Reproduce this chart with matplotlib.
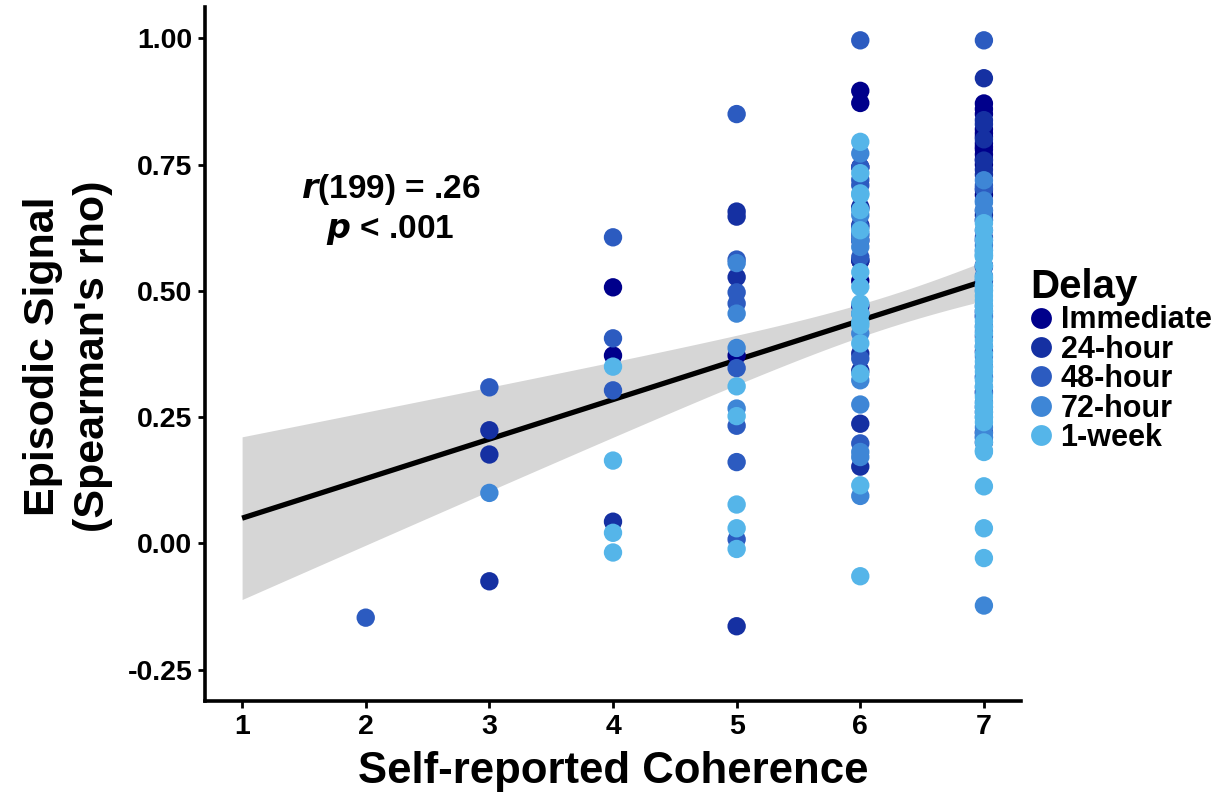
import numpy as np
import matplotlib
matplotlib.use("Agg")
from matplotlib import pyplot as plt
from matplotlib.lines import Line2D

plt.rcParams['font.family'] = ['Liberation Sans', 'DejaVu Sans']
plt.rcParams['font.weight'] = 'bold'

# episodic signal values, per delay group and coherence rating
immediate = {
    4: [0.507, 0.372],
    5: [0.372],
    6: [0.896, 0.872, 0.745, 0.52, 0.60, 0.56, 0.47],
    7: [0.871, 0.86, 0.85, 0.812, 0.805, 0.792, 0.785, 0.77, 0.75, 0.6, 0.64,
        0.55, 0.45, 0.38, 0.30, 0.22, 0.82, 0.78, 0.76, 0.69],
}
hour24 = {
    3: [0.224, 0.176, -0.075],
    4: [0.043],
    5: [0.657, 0.647, 0.527, -0.164],
    6: [0.663, 0.666, 0.376, 0.342, 0.237, 0.152, 0.63, 0.56],
    7: [0.921, 0.838, 0.83, 0.758, 0.74, 0.659, 0.70, 0.52, 0.46, 0.41, 0.35,
        0.27, 0.20, 0.80, 0.73, 0.65],
}
hour48 = {
    2: [-0.147],
    3: [0.309],
    4: [0.606, 0.406, 0.303],
    5: [0.85, 0.562, 0.497, 0.475, 0.347, 0.233, 0.161, 0.008],
    6: [0.996, 0.745, 0.709, 0.626, 0.567, 0.72, 0.455, 0.366, 0.198, 0.61],
    7: [0.996, 0.703, 0.709, 0.62, 0.606, 0.547, 0.58, 0.51, 0.47, 0.43, 0.39,
        0.33, 0.26, 0.21],
}
hour72 = {
    3: [0.10],
    5: [0.555, 0.455, 0.387, 0.267],
    6: [0.772, 0.614, 0.6, 0.587, 0.416, 0.323, 0.275, 0.181, 0.171, 0.094, 0.65],
    7: [0.719, 0.679, 0.675, 0.501, 0.448, 0.455, 0.329, 0.31, 0.297, 0.25, 0.23,
        0.218, 0.21, -0.123, 0.66, 0.59, 0.53, 0.42, 0.37, 0.28, 0.64, 0.57],
}
week1 = {
    4: [0.35, 0.164, 0.021, -0.018],
    5: [0.311, 0.252, 0.077, 0.03, -0.011],
    6: [0.795, 0.733, 0.693, 0.537, 0.508, 0.475, 0.455, 0.438, 0.396, 0.432,
        0.336, 0.115, -0.065, 0.69, 0.66, 0.62],
    7: [0.634, 0.574, 0.57, 0.567, 0.527, 0.525, 0.481, 0.428, 0.402, 0.376,
        0.349, 0.323, 0.277, 0.27, 0.25, 0.184, 0.181, 0.113, 0.03, -0.029, 0.60,
        0.55, 0.51, 0.49, 0.46, 0.44, 0.415, 0.39, 0.36, 0.34, 0.31, 0.29, 0.26,
        0.24, 0.20, 0.47, 0.50, 0.62, 0.58],
}

delay_labels = ['Immediate', '24-hour', '48-hour', '72-hour', '1-week']
delay_groups = [immediate, hour24, hour48, hour72, week1]
delay_colors = ['#00008B', '#1530A2', '#2C5BC0', '#3E86D6', '#55B5E9']


def flatten(group):
    xs, ys = [], []
    for k, vals in group.items():
        xs += [k] * len(vals)
        ys += vals
    return np.array(xs, float), np.array(ys, float)


def linear_fit_ci(x, y, grid, t=1.972):
    slope, icept = np.polyfit(x, y, 1)
    n = len(x)
    resid = y - (icept + slope * x)
    s = np.sqrt(np.sum(resid ** 2) / (n - 2))
    sxx = np.sum((x - x.mean()) ** 2)
    fit = icept + slope * grid
    se = s * np.sqrt(1.0 / n + (grid - x.mean()) ** 2 / sxx)
    return fit, fit - t * se, fit + t * se


if __name__ == '__main__':
    fig = plt.figure(figsize=(12.27, 8.01), dpi=100)
    ax = fig.add_axes([205 / 1227, 1 - 701 / 801, 816 / 1227, 694 / 801])

    all_x = np.concatenate([flatten(g)[0] for g in delay_groups])
    all_y = np.concatenate([flatten(g)[1] for g in delay_groups])
    grid = np.linspace(1, 7, 80)
    fit, lo, hi = linear_fit_ci(all_x, all_y, grid)
    ax.fill_between(grid, lo, hi, color='#D6D6D6', lw=0, zorder=1)
    ax.plot(grid, fit, color='black', lw=3.8, zorder=2, solid_capstyle='butt')

    for g, c in zip(delay_groups, delay_colors):
        gx, gy = flatten(g)
        ax.scatter(gx, gy, s=175, color=c, edgecolors='none', zorder=3)

    ax.set_xlim(0.7, 7.3)
    ax.set_ylim(-0.312, 1.062)
    ax.set_xticks([1, 2, 3, 4, 5, 6, 7])
    ax.set_yticks([-0.25, 0.0, 0.25, 0.5, 0.75, 1.0])
    ax.set_yticklabels(['-0.25', '0.00', '0.25', '0.50', '0.75', '1.00'])
    for side in ['top', 'right']:
        ax.spines[side].set_visible(False)
    for side in ['left', 'bottom']:
        ax.spines[side].set_linewidth(2.6)
    ax.tick_params(axis='both', length=5, width=2, direction='out',
                   labelsize=20.5, pad=4, colors='black')
    for lab in ax.get_xticklabels() + ax.get_yticklabels():
        lab.set_fontweight('bold')

    ax.set_xlabel('Self-reported Coherence', fontsize=31.5, fontweight='bold', labelpad=8)
    ax.set_ylabel("Episodic Signal\n(Spearman's rho)", fontsize=31, fontweight='bold',
                  linespacing=1.3)
    ax.yaxis.set_label_coords(-0.113, 0.497)

    ax.text(2.2, 0.70, r'$\mathbfit{r}$(199) = .26', fontsize=24, fontweight='bold',
            ha='center', va='center')
    ax.text(2.2, 0.62, r'$\mathbfit{p}$ < .001', fontsize=24, fontweight='bold',
            ha='center', va='center')

    handles = [Line2D([], [], ls='none', marker='o', ms=15, color=c, mec='none')
               for c in delay_colors]
    leg = fig.legend(handles, delay_labels, title='Delay', loc='upper left',
                     bbox_to_anchor=(1030 / 1227, 1 - 268 / 801), frameon=False,
                     fontsize=22, title_fontsize=29, handletextpad=0.3,
                     handlelength=0.7, labelspacing=-0.02, borderaxespad=0,
                     borderpad=0)
    leg._legend_box.align = 'left'
    for t in leg.get_texts():
        t.set_fontweight('bold')
    leg.get_title().set_fontweight('bold')

    fig.savefig('out.png', dpi=100)
